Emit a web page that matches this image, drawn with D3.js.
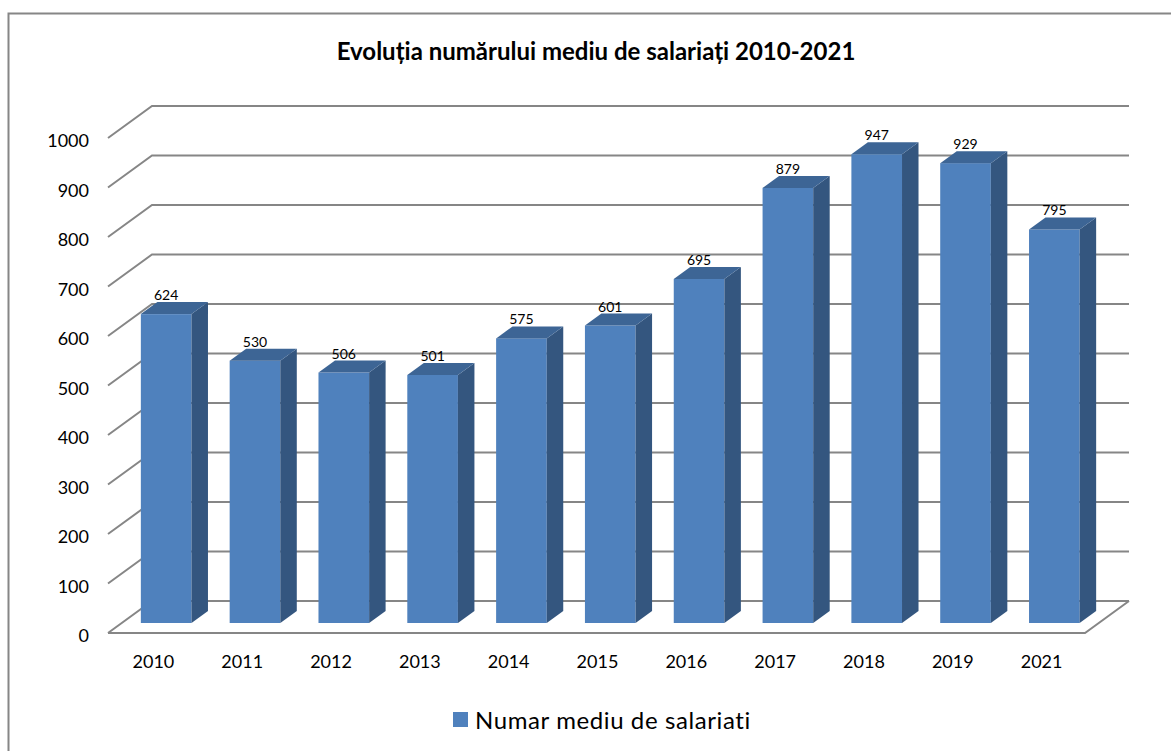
<!DOCTYPE html>
<html><head><meta charset="utf-8">
<script src="https://cdn.jsdelivr.net/npm/d3@7"></script>
<style>body{margin:0;background:#fff}svg{display:block}</style>
</head><body>
<script>
const years = ["2010","2011","2012","2013","2014","2015","2016","2017","2018","2019","2021"];
const values = [624,530,506,501,575,601,695,879,947,929,795];
const yTicks = [0,100,200,300,400,500,600,700,800,900,1000];
const seriesName = "Numar mediu de salariati";
const title = "Evoluția numărului mediu de salariați 2010-2021";

const W = 1171, H = 751;
const svg = d3.select("body").append("svg").attr("width", W).attr("height", H);
svg.append("rect").attr("x",8.5).attr("y",13.5).attr("width",1200).attr("height",800)
  .attr("fill","#fff").attr("stroke","#868686").attr("stroke-width",2);

const x = d3.scaleBand().domain(years).range([108, 1085]).padding(0);
const y = d3.scaleLinear().domain([0,1000]).range([633, 138]);
const DX = 44, DY = 32;
const pz = (px, py, z) => [px + z*DX, py - z*DY];
const font = "Lato, 'Open Sans', sans-serif";
const grid = "#868686";

svg.append("text").attr("x", 596).attr("y", 60).attr("text-anchor","middle")
  .attr("font-family", font).attr("font-weight","bold").attr("font-size", 24)
  .attr("fill","#000").text(title);

// gridlines: left diagonal + back wall
const g = svg.append("g");
yTicks.forEach(t => {
  const yf = y(t);
  const [bx, by] = pz(108, yf, 1);
  const [ex, ey] = pz(1085, yf, 1);
  g.append("path").attr("d", `M108,${yf}L${bx},${by}L${ex},${ey}`)
    .attr("fill","none").attr("stroke", grid).attr("stroke-width", 2);
  g.append("text").attr("x", 89).attr("y", yf + 9).attr("text-anchor","end")
    .attr("font-family", font).attr("font-size", 18).attr("fill","#000").text(t);
});
// floor front and right edges
const [fx, fy] = pz(1085, y(0), 1);
g.append("path").attr("d", `M108,${y(0)}L1085,${y(0)}L${fx},${fy}`)
  .attr("fill","none").attr("stroke", grid).attr("stroke-width", 2);

// bars
const z0 = 0.3125, z1 = 0.6875;
const bw = x.bandwidth()*0.57;
const bars = svg.append("g");
years.forEach((yr, i) => {
  const v = values[i];
  const cx = x(yr) + x.bandwidth()/2;
  const l = cx - bw/2, r = cx + bw/2;
  const [lf, bf] = pz(l, y(0), z0);
  const [rf] = pz(r, y(0), z0);
  const tf = pz(l, y(v), z0)[1];
  const ddx = (z1-z0)*DX, ddy = (z1-z0)*DY;
  bars.append("rect").attr("x", lf).attr("y", tf).attr("width", rf-lf).attr("height", bf-tf)
    .attr("fill", "#4f81bd");
  bars.append("path").attr("d", `M${rf},${tf}L${rf+ddx},${tf-ddy}L${rf+ddx},${bf-ddy}L${rf},${bf}Z`)
    .attr("fill", "#34567f");
  bars.append("path").attr("d", `M${lf},${tf}L${lf+ddx},${tf-ddy}L${rf+ddx},${tf-ddy}L${rf},${tf}Z`)
    .attr("fill", "#3d6595");
  bars.append("text").attr("x", (lf+rf)/2).attr("y", tf - ddy - 2).attr("text-anchor","middle")
    .attr("font-family", font).attr("font-size", 14).attr("fill","#000").text(v);
  bars.append("text").attr("x", cx + 1).attr("y", 668).attr("text-anchor","middle")
    .attr("font-family", font).attr("font-size", 18).attr("fill","#000").text(yr);
});

// legend
svg.append("rect").attr("x", 453).attr("y", 712).attr("width", 15).attr("height", 15).attr("fill", "#4f81bd");
svg.append("text").attr("x", 475).attr("y", 729).attr("font-family", font).attr("font-size", 24)
  .attr("letter-spacing", 0.6).attr("fill","#000").text(seriesName);
</script>
</body></html>
